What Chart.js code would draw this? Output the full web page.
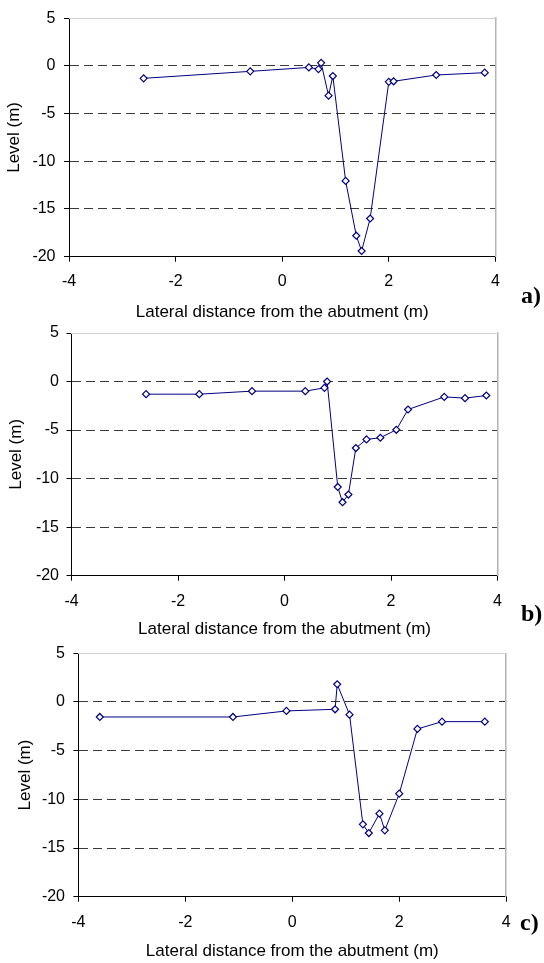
<!DOCTYPE html>
<html><head><meta charset="utf-8">
<script src="https://cdn.jsdelivr.net/npm/chart.js@4.4.0/dist/chart.umd.min.js"></script>
<style>
html,body{margin:0;padding:0;background:#fff;}
#wrap{position:relative;width:544px;height:963px;overflow:hidden;background:#fff;}
canvas{position:absolute;left:0;top:0;}
.lbl{position:absolute;font-family:"Liberation Serif","Times New Roman",serif;font-weight:bold;font-size:24px;line-height:1;color:#000;white-space:nowrap;}
</style></head><body>
<div id="wrap">
<canvas id="ca" width="544" height="963"></canvas>
<canvas id="cb" width="544" height="963"></canvas>
<canvas id="cc" width="544" height="963"></canvas>
<div class="lbl" id="la" style="left:521px;top:283px"></div>
<div class="lbl" id="lb" style="left:521px;top:601px"></div>
<div class="lbl" id="lc" style="left:520px;top:910px"></div>
</div>
<script>
// ---- data ----
const xTickValues = [-4, -2, 0, 2, 4];
const yTickValues = [-20, -15, -10, -5, 0, 5];
const xTitle = 'Lateral distance from the abutment (m)';
const yTitle = 'Level (m)';
const panelLabels = ['a)', 'b)', 'c)'];

const aX = [-2.60, -0.60, 0.50, 0.68, 0.73, 0.87, 0.95, 1.19, 1.39, 1.49, 1.65, 2.00, 2.09, 2.89, 3.80];
const aY = [-1.31, -0.58, -0.17, -0.34, 0.31, -3.13, -1.07, -12.06, -17.8, -19.4, -16.0, -1.68, -1.62, -0.96, -0.72];

const bX = [-2.60, -1.60, -0.61, 0.39, 0.75, 0.80, 1.00, 1.09, 1.20, 1.34, 1.54, 1.80, 2.10, 2.32, 3.00, 3.39, 3.79];
const bY = [-1.30, -1.30, -0.99, -0.99, -0.65, 0.0, -10.86, -12.43, -11.64, -6.85, -5.96, -5.79, -4.97, -2.88, -1.58, -1.71, -1.44];

const cX = [-3.60, -1.11, -0.11, 0.80, 0.84, 1.07, 1.32, 1.43, 1.63, 1.73, 2.00, 2.34, 2.80, 3.60];
const cY = [-1.54, -1.54, -0.92, -0.75, 1.82, -1.30, -12.57, -13.46, -11.47, -13.18, -9.42, -2.77, -2.02, -2.02];

// ---- layout ----
const W = 544, H = 963;
const FAMILY = '"Liberation Sans", Arial, sans-serif';
const TICK_SIZE = 16, TITLE_SIZE = 17, TL = 5;
const panels = [
  {id:'ca', lbl:'la', label:panelLabels[0], xs:aX, ys:aY, left:69, right:495.4, top:14.3, bottom:256.7, yTitleX:14.5, xTitleY:312, xLabelY:282, yLabelRight:55.5},
  {id:'cb', lbl:'lb', label:panelLabels[1], xs:bX, ys:bY, left:71.5, right:497.5, top:333, bottom:575.7, yTitleX:16.3, xTitleY:629, xLabelY:601.7, yLabelRight:59},
  {id:'cc', lbl:'lc', label:panelLabels[2], xs:cX, ys:cY, left:78.4, right:506.2, top:653.3, bottom:896.7, yTitleX:25, xTitleY:951.7, xLabelY:922.7, yLabelRight:65}
];

function build(p) {
  document.getElementById(p.lbl).textContent = p.label;
  const tlh = TITLE_SIZE * 1.2 / 2;
  const klh = TICK_SIZE * 1.2 / 2;
  const padLeft = p.yTitleX - tlh;
  const yW = p.left - padLeft;
  const padBottom = H - (p.xTitleY + tlh);
  const xH = p.xTitleY + tlh - p.bottom;
  const padRight = W - p.right;
  const padTop = p.top;
  const xTickPad = p.xLabelY - p.bottom - TL - klh;
  const yTickPad = p.left - TL - p.yLabelRight;

  new Chart(document.getElementById(p.id), {
    type: 'scatter',
    data: {
      datasets: [{
        data: p.xs.map((v, i) => ({x: v, y: p.ys[i]})),
        showLine: true,
        borderColor: '#000080',
        borderWidth: 1,
        pointStyle: 'rectRot',
        pointRadius: 3.5,
        pointBackgroundColor: '#ffffff',
        pointBorderColor: '#000080',
        pointBorderWidth: 1.2,
        fill: false,
        tension: 0,
        clip: false
      }]
    },
    options: {
      responsive: false,
      animation: false,
      devicePixelRatio: 1,
      events: [],
      layout: {padding: {left: padLeft, right: padRight, top: padTop, bottom: padBottom}},
      plugins: {legend: {display: false}, tooltip: {enabled: false}},
      scales: {
        x: {
          type: 'linear', position: 'bottom', min: -4, max: 4,
          afterBuildTicks: s => { s.ticks = xTickValues.map(v => ({value: v})); },
          afterFit: s => { s.height = xH; },
          ticks: {padding: xTickPad, color: '#000', font: {family: FAMILY, size: TICK_SIZE}, maxRotation: 0, autoSkip: false},
          grid: {display: true, drawOnChartArea: false, drawTicks: true, tickLength: TL, tickColor: '#000', tickWidth: 1},
          border: {display: true, color: '#000', width: 1},
          title: {display: true, text: xTitle, color: '#000', font: {family: FAMILY, size: TITLE_SIZE}, padding: 0}
        },
        y: {
          type: 'linear', position: 'left', min: -20, max: 5,
          afterBuildTicks: s => { s.ticks = yTickValues.map(v => ({value: v})); },
          afterFit: s => { s.width = yW; },
          ticks: {padding: yTickPad, color: '#000', font: {family: FAMILY, size: TICK_SIZE}, autoSkip: false},
          grid: {
            display: true, drawOnChartArea: true, drawTicks: true, tickLength: TL, tickColor: '#000', tickWidth: 1, lineWidth: 1,
            color: ctx => {
              const v = ctx.tick ? ctx.tick.value : null;
              if (v === -20) return 'rgba(0,0,0,0)';
              if (v === 5) return '#8c8c8c';
              return '#3a3a3a';
            }
          },
          border: {display: true, color: '#000', width: 1, dash: [9, 5]},
          title: {display: true, text: yTitle, color: '#000', font: {family: FAMILY, size: TITLE_SIZE}, padding: 0}
        },
        r: {
          type: 'linear', position: 'right', min: -20, max: 5,
          afterFit: s => { s.width = 0; },
          ticks: {display: false},
          grid: {display: false, drawTicks: false},
          border: {display: true, color: '#b4b4b4', width: 1.5}
        },
        t: {
          type: 'linear', position: 'top', min: -4, max: 4,
          afterFit: s => { s.height = 0; },
          ticks: {display: false},
          grid: {display: false, drawTicks: false},
          border: {display: true, color: '#cfcfcf', width: 1}
        }
      }
    }
  });
}
panels.forEach(build);
</script>
</body></html>
